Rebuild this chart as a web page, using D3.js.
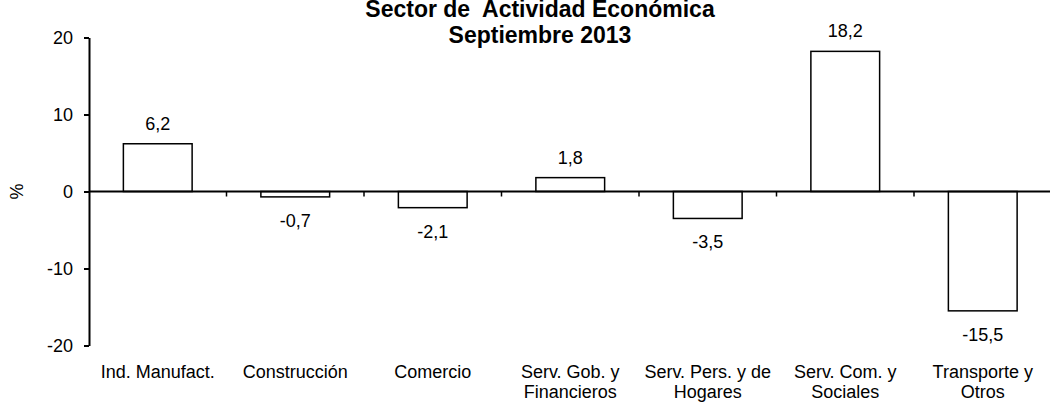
<!DOCTYPE html>
<html>
<head>
<meta charset="utf-8">
<script src="https://cdn.jsdelivr.net/npm/d3@7"></script>
<style>
  html, body { margin: 0; padding: 0; background: #fff; }
  svg { display: block; font-family: "Liberation Sans", Arial, sans-serif; }
  .title { white-space: pre; }
</style>
</head>
<body>
<svg id="chart" width="1050" height="402"></svg>
<script>
// ---- data ----
const categories = [
  ["Ind. Manufact."],
  ["Construcción"],
  ["Comercio"],
  ["Serv. Gob. y", "Financieros"],
  ["Serv. Pers. y de", "Hogares"],
  ["Serv. Com. y", "Sociales"],
  ["Transporte y", "Otros"]
];
const values = [6.2, -0.7, -2.1, 1.8, -3.5, 18.2, -15.5];
const valueLabels = ["6,2", "-0,7", "-2,1", "1,8", "-3,5", "18,2", "-15,5"];
const yTicks = [-20, -10, 0, 10, 20];
const titleLines = ["Sector de  Actividad Económica", "Septiembre 2013"];
const yLabel = "%";

// ---- layout ----
const svg = d3.select("#chart");
const mLeft = 89, mRight = 1051.5, mTop = 37.5, mBottom = 345.5;
const keys = categories.map((c, i) => i);

const x = d3.scaleBand().domain(keys).range([mLeft, mRight])
  .paddingInner(0.5).paddingOuter(0.25);
const y = d3.scaleLinear().domain([-20, 20]).range([mBottom, mTop]);

// bars
svg.append("g").selectAll("rect").data(values).join("rect")
  .attr("x", (d, i) => x(i))
  .attr("width", x.bandwidth())
  .attr("y", d => y(Math.max(0, d)))
  .attr("height", d => Math.abs(y(d) - y(0)))
  .attr("fill", "#fff")
  .attr("stroke", "#000")
  .attr("stroke-width", 1.5);

// zero line
svg.append("line")
  .attr("x1", mLeft).attr("x2", 1050)
  .attr("y1", y(0)).attr("y2", y(0))
  .attr("stroke", "#000").attr("stroke-width", 2);

// category boundary ticks
svg.append("g").selectAll("line").data(keys.slice(1)).join("line")
  .attr("x1", i => x(i) - (x.step() - x.bandwidth()) / 2)
  .attr("x2", i => x(i) - (x.step() - x.bandwidth()) / 2)
  .attr("y1", y(0)).attr("y2", y(0) + 5)
  .attr("stroke", "#000").attr("stroke-width", 1.5);

// y axis
const yAxis = svg.append("g")
  .attr("transform", `translate(${mLeft},0)`)
  .call(d3.axisLeft(y).tickValues(yTicks).tickSize(5).tickSizeOuter(0).tickPadding(11)
    .tickFormat(d => String(d)));
yAxis.select(".domain").attr("stroke-width", 2);
yAxis.selectAll(".tick line").attr("stroke-width", 2);
yAxis.selectAll(".tick text")
  .attr("font-size", 18).attr("font-family", '"Liberation Sans", Arial, sans-serif')
  .attr("fill", "#000");

// value labels
svg.append("g").selectAll("text").data(values).join("text")
  .attr("x", (d, i) => x(i) + x.bandwidth() / 2)
  .attr("y", d => d >= 0 ? y(d) - 14 : y(d) + 30)
  .attr("text-anchor", "middle")
  .attr("font-size", 18)
  .text((d, i) => valueLabels[i]);

// category labels
const cat = svg.append("g").selectAll("text").data(categories).join("text")
  .attr("x", (d, i) => x(i) + x.bandwidth() / 2)
  .attr("y", 378)
  .attr("text-anchor", "middle")
  .attr("font-size", 18);
cat.selectAll("tspan").data(d => d).join("tspan")
  .attr("x", function () { return d3.select(this.parentNode).attr("x"); })
  .attr("dy", (d, j) => j === 0 ? 0 : 20)
  .text(d => d);

// title
svg.append("text")
  .attr("class", "title")
  .attr("xml:space", "preserve")
  .attr("x", 540).attr("y", 17)
  .attr("text-anchor", "middle")
  .attr("font-size", 23).attr("font-weight", "bold")
  .selectAll("tspan").data(titleLines).join("tspan")
  .attr("x", 540)
  .attr("dy", (d, j) => j === 0 ? 0 : 26)
  .text(d => d);

// y label
svg.append("text")
  .attr("transform", `translate(23,${y(0)}) rotate(-90)`)
  .attr("text-anchor", "middle")
  .attr("font-size", 18)
  .text(yLabel);
</script>
</body>
</html>
